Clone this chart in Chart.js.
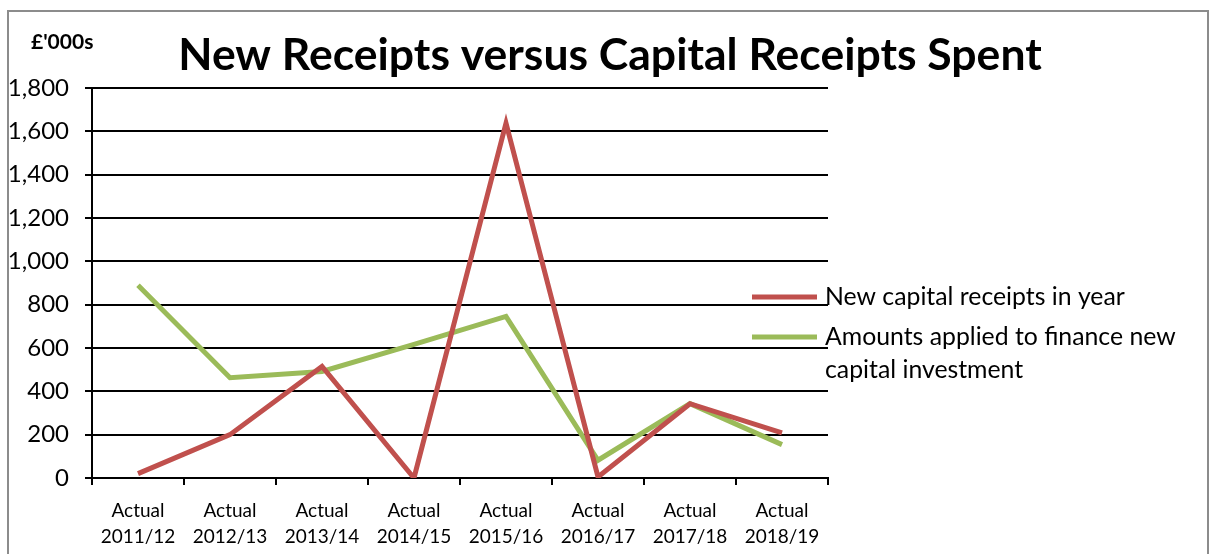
<!DOCTYPE html>
<html>
<head>
<meta charset="utf-8">
<script src="https://cdn.jsdelivr.net/npm/chart.js@4.4.1/dist/chart.umd.min.js"></script>
<style>
  html, body { margin: 0; padding: 0; background: #fff; }
  #wrap { position: relative; width: 1216px; height: 554px; }
</style>
</head>
<body>
<div id="wrap"><canvas id="LineChart" width="1216" height="554"></canvas></div>
<script>
// categories and values (£'000s)
var years = [
    ['Actual', '2011/12'], ['Actual', '2012/13'], ['Actual', '2013/14'], ['Actual', '2014/15'],
    ['Actual', '2015/16'], ['Actual', '2016/17'], ['Actual', '2017/18'], ['Actual', '2018/19']
];
var newReceipts = [20, 200, 515, 0, 1638, 5, 343, 208];
var amountsApplied = [890, 463, 492, 617, 746, 82, 343, 154];
var seriesNames = ['New capital receipts in year', ['Amounts applied to finance new', 'capital investment']];
var chartTitle = 'New Receipts versus Capital Receipts Spent';

var RED = '#C0504D';
var GREEN = '#9BBB59';
var FONT = 'Lato, "Open Sans", sans-serif';

// border, title, unit label and legend drawn on the canvas
var extras = {
    id: 'extras',
    beforeDraw: function(chart) {
        var ctx = chart.ctx;
        ctx.save();
        ctx.fillStyle = '#fff';
        ctx.fillRect(0, 0, chart.width, chart.height);
        ctx.strokeStyle = '#8c8c8c';
        ctx.lineWidth = 2;
        ctx.strokeRect(8, 11, 1200, 600);
        ctx.restore();
    },
    afterDraw: function(chart) {
        var ctx = chart.ctx;
        ctx.save();
        ctx.fillStyle = '#000';
        ctx.textBaseline = 'middle';

        ctx.textAlign = 'center';
        ctx.font = 'bold 44.5px ' + FONT;
        ctx.fillText(chartTitle, 610, 56);

        ctx.textAlign = 'left';
        ctx.font = 'bold 21px ' + FONT;
        ctx.fillText("£'000s", 31, 42);

        var rows = [297, 337];
        ctx.font = '24.8px ' + FONT;
        chart.data.datasets.forEach(function(ds, i) {
            var y = rows[i];
            ctx.strokeStyle = ds.borderColor;
            ctx.lineWidth = 5;
            ctx.beginPath();
            ctx.moveTo(752, y);
            ctx.lineTo(817, y);
            ctx.stroke();
            ctx.fillStyle = '#000';
            var lines = [].concat(seriesNames[i]);
            lines.forEach(function(t, k) {
                ctx.fillText(t, 825, y + k * 33);
            });
        });
        ctx.restore();
    }
};

var config = {
    type: 'line',
    data: {
        labels: years,
        datasets: [{
            label: 'New capital receipts in year',
            data: newReceipts,
            borderColor: RED,
            backgroundColor: RED,
            borderWidth: 5,
            pointRadius: 0,
            tension: 0
        }, {
            label: 'Amounts applied to finance new capital investment',
            data: amountsApplied,
            borderColor: GREEN,
            backgroundColor: GREEN,
            borderWidth: 5,
            pointRadius: 0,
            tension: 0
        }]
    },
    options: {
        responsive: false,
        animation: false,
        layout: { padding: { left: 0, right: 388, top: 88, bottom: 0 } },
        plugins: {
            legend: { display: false },
            tooltip: { enabled: false },
            title: { display: false }
        },
        scales: {
            x: {
                offset: true,
                grid: { offset: true, drawOnChartArea: false, drawTicks: true, tickLength: 7, color: '#000', lineWidth: 2 },
                border: { color: '#000', width: 2 },
                ticks: { color: '#000', padding: 13, maxRotation: 0, autoSkip: false,
                         font: { family: FONT, size: 19, lineHeight: 1.35 } },
                afterFit: function(s) { s.height = 76; }
            },
            y: {
                min: 0,
                max: 1800,
                ticks: { stepSize: 200, color: '#000', padding: 16,
                         font: { family: FONT, size: 24 } },
                grid: { color: '#000', lineWidth: 2, tickLength: 7 },
                border: { color: '#000', width: 2 },
                afterFit: function(s) { s.width = 92; }
            }
        }
    },
    plugins: [extras]
};

var lineChart = new Chart(document.getElementById('LineChart'), config);
</script>
</body>
</html>
